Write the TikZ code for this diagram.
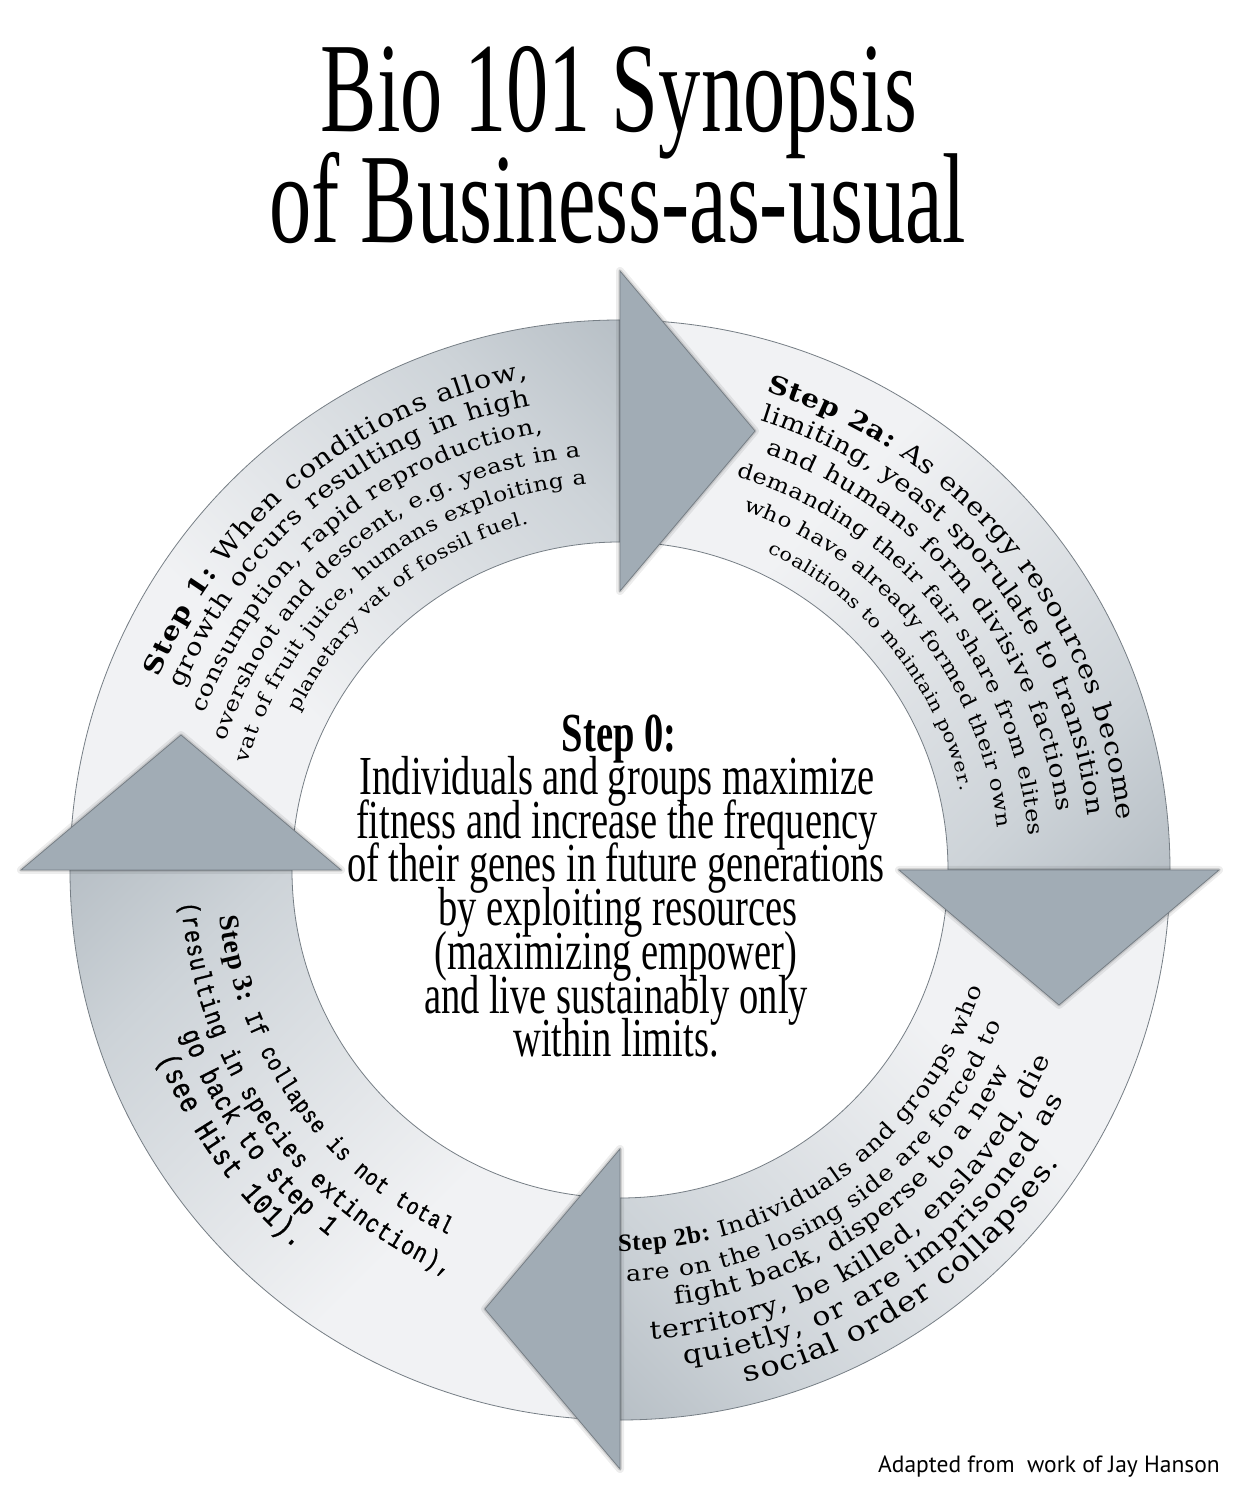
\documentclass[tikz,border=0pt]{standalone}
\usepackage{fontspec}
\setmainfont{Liberation Serif}
\newfontfamily\fArc[FakeStretch=1.15]{DejaVu Serif}
\newfontfamily\fTimes{Liberation Serif}
\newfontfamily\fMono[FakeStretch=0.82,FakeBold=1]{Liberation Mono}
\newfontfamily\fCond[FakeStretch=0.70]{Liberation Serif}
\newfontfamily\fTitle[FakeStretch=0.66]{Liberation Serif}
\newfontfamily\fFoot{PT Sans}
\usetikzlibrary{decorations.text}
\definecolor{bandlight}{RGB}{241,242,244}
\definecolor{bandmid}{RGB}{205,211,216}
\definecolor{banddark}{RGB}{160,170,178}
\definecolor{headfill}{RGB}{161,172,181}
\definecolor{edgegray}{RGB}{118,126,133}
\pgfdeclareverticalshading{bandshade}{100bp}{color(0bp)=(bandlight); color(40bp)=(bandlight); color(72bp)=(bandmid); color(100bp)=(banddark)}
\newcommand\sArc[1]{\fArc\mdseries\fontsize{#1}{#1}\selectfont}
\newcommand\sArcB[1]{\fArc\bfseries\fontsize{#1}{#1}\selectfont}
\newcommand\sTimB[1]{\fTimes\bfseries\fontsize{#1}{#1}\selectfont}
\newcommand\sMono[1]{\fMono\mdseries\fontsize{#1}{#1}\selectfont}
\begin{document}
\begin{tikzpicture}[x=1pt,y=1pt,
  band/.style={shading=bandshade, draw=edgegray, line width=0.8pt},
  glowA/.style={draw=black, opacity=0.07, line width=8pt, line join=round},
  glowB/.style={draw=black, opacity=0.12, line width=3.5pt, line join=round},
  head/.style={fill=headfill, draw=edgegray, line width=0.8pt},
  lbl/.style={inner sep=0pt, anchor=base}]
\useasboundingbox (-620,-615) rectangle (614,870);
\fill[white] (-620,-615) rectangle (614,870);
% title
\node[lbl, font=\fTitle\fontsize{128}{128}\selectfont] (t1) at (-1,738) {Bio 101 Synopsis};
\node[lbl, font=\fTitle\fontsize{128}{128}\selectfont] (t2) at (-2,627) {of Business-as-usual};
% bands
\shade[band, shading angle=-45] (180:550) arc[start angle=180, end angle=90, radius=550] -- (90:328) arc[start angle=90, end angle=180, radius=328] -- cycle;
\shade[band, shading angle=-135] (90:550) arc[start angle=90, end angle=0, radius=550] -- (0:328) arc[start angle=0, end angle=90, radius=328] -- cycle;
\shade[band, shading angle=135] (0:550) arc[start angle=0, end angle=-90, radius=550] -- (-90:328) arc[start angle=-90, end angle=0, radius=328] -- cycle;
\shade[band, shading angle=45] (-90:550) arc[start angle=-90, end angle=-180, radius=550] -- (-180:328) arc[start angle=-180, end angle=-90, radius=328] -- cycle;
% arrow heads
\foreach \r in {0,-90,-180,90}{
  \begin{scope}[rotate=\r]
    \path[glowA] (0,279) -- (0,599) -- (135,439) -- cycle;
    \path[glowB] (0,279) -- (0,599) -- (135,439) -- cycle;
    \path[head] (0,279) -- (0,599) -- (135,439) -- cycle;
  \end{scope}
}
% Step 1
\path[decorate, decoration={text along path, text align={fit to path}, text={|\sArcB{25}|Step 1:|\sArc{25}| When conditions allow,}}] (157.4:500) arc[start angle=157.4, end angle=100.6, radius=500];
\path[decorate, decoration={text along path, text align={fit to path}, text={|\sArc{24}|growth occurs resulting in high}}] (157.5:473) arc[start angle=157.5, end angle=100.9, radius=473];
\path[decorate, decoration={text along path, text align={fit to path}, text={|\sArc{22}|consumption, rapid reproduction,}}] (159.4:444) arc[start angle=159.4, end angle=100, radius=444];
\path[decorate, decoration={text along path, text align={fit to path}, text={|\sArc{21}|overshoot and descent, e.g. yeast in a}}] (162:415) arc[start angle=162, end angle=95.5, radius=415];
\path[decorate, decoration={text along path, text align={fit to path}, text={|\sArc{20}|vat of fruit juice, humans exploiting a}}] (164:387) arc[start angle=164, end angle=95, radius=387];
\path[decorate, decoration={text along path, text align={fit to path}, text={|\sArc{19}|planetary vat of fossil fuel.}}] (153.9:358) arc[start angle=153.9, end angle=104.8, radius=358];
% Step 2a
\path[decorate, decoration={text along path, text align={fit to path}, text={|\sArcB{25}|Step 2a:|\sArc{25}| As energy resources become}}] (73:500) arc[start angle=73, end angle=5.7, radius=500];
\path[decorate, decoration={text along path, text align={fit to path}, text={|\sArc{24}|limiting, yeast sporulate to transition}}] (72.6:471) arc[start angle=72.6, end angle=6.6, radius=471];
\path[decorate, decoration={text along path, text align={fit to path}, text={|\sArc{23}|and humans form divisive factions}}] (70.7:441) arc[start angle=70.7, end angle=7.6, radius=441];
\path[decorate, decoration={text along path, text align={fit to path}, text={|\sArc{21}|demanding their fair share from elites}}] (73.5:410) arc[start angle=73.5, end angle=4.8, radius=410];
\path[decorate, decoration={text along path, text align={fit to path}, text={|\sArc{20}|who have already formed their own}}] (71.1:380) arc[start angle=71.1, end angle=6.4, radius=380];
\path[decorate, decoration={text along path, text align={fit to path}, text={|\sArc{18}|coalitions to maintain power.}}] (65:350) arc[start angle=65, end angle=13, radius=350];
% Step 2b
\path[decorate, decoration={text along path, text align={fit to path}, text={|\sTimB{25}|Step 2b:|\sArc{22}| Individuals and groups who}}] (-90.3:381) arc[start angle=-90.3, end angle=-18.2, radius=381];
\path[decorate, decoration={text along path, text align={fit to path}, text={|\sArc{22}|are on the losing side are forced to}}] (-89.1:411) arc[start angle=-89.1, end angle=-22, radius=411];
\path[decorate, decoration={text along path, text align={fit to path}, text={|\sArc{24}|fight back, disperse to a new}}] (-82.8:438) arc[start angle=-82.8, end angle=-27.3, radius=438];
\path[decorate, decoration={text along path, text align={fit to path}, text={|\sArc{25}|territory, be killed, enslaved, die}}] (-86.3:470) arc[start angle=-86.3, end angle=-23.8, radius=470];
\path[decorate, decoration={text along path, text align={fit to path}, text={|\sArc{26}|quietly, or are imprisoned as}}] (-82.6:499) arc[start angle=-82.6, end angle=-27.3, radius=499];
\path[decorate, decoration={text along path, text align={fit to path}, text={|\sArc{28}|social order collapses.}}] (-76.2:528) arc[start angle=-76.2, end angle=-33.7, radius=528];
% Step 3
\path[decorate, decoration={text along path, text align={fit to path}, text={|\sTimB{28}|Step 3:|\sMono{24}| If collapse is not total}}] (186.6:403) arc[start angle=186.6, end angle=244.7, radius=403];
\path[decorate, decoration={text along path, text align={fit to path}, text={|\sMono{26}|(resulting in species extinction),}}] (184.3:440) arc[start angle=184.3, end angle=247, radius=440];
\path[decorate, decoration={text along path, text align={fit to path}, text={|\sMono{28}|go back to step 1}}] (200.4:468) arc[start angle=200.4, end angle=231.5, radius=468];
\path[decorate, decoration={text along path, text align={fit to path}, text={|\sMono{30}|(see Hist 101).}}] (202.2:499) arc[start angle=202.2, end angle=229.4, radius=499];
% Step 0
\node[lbl, font=\fCond\bfseries\fontsize{55}{55}\selectfont] (s0) at (-1,118) {Step 0:};
\node[lbl, font=\fCond\fontsize{55}{55}\selectfont] (c1) at (-3,75) {Individuals and groups maximize};
\node[lbl, font=\fCond\fontsize{55}{55}\selectfont] (c2) at (-3,31) {fitness and increase the frequency};
\node[lbl, font=\fCond\fontsize{55}{55}\selectfont] (c3) at (-4,-12) {of their genes in future generations};
\node[lbl, font=\fCond\fontsize{55}{55}\selectfont] (c4) at (-2,-56) {by exploiting resources};
\node[lbl, font=\fCond\fontsize{55}{55}\selectfont] (c5) at (-4,-99) {(maximizing empower)};
\node[lbl, font=\fCond\fontsize{55}{55}\selectfont] (c6) at (-4,-143) {and live sustainably only};
\node[lbl, font=\fCond\fontsize{55}{55}\selectfont] (c7) at (-4,-186) {within limits.};
% footer
\node[inner sep=0pt, anchor=base east, font=\fFoot\fontsize{23.5}{23.5}\selectfont] (ft) at (600,-602) {Adapted from~ work of Jay Hanson};
\end{tikzpicture}
\end{document}
